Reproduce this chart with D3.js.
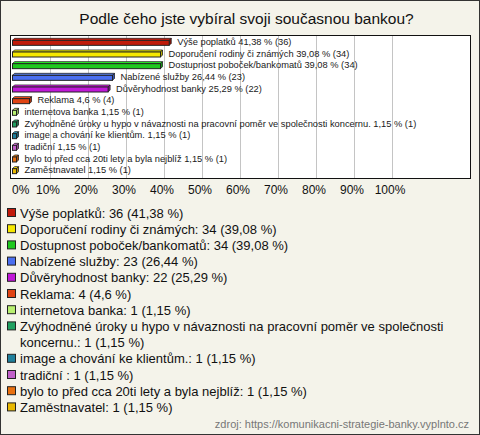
<!DOCTYPE html>
<html><head><meta charset="utf-8">
<script src="https://cdn.jsdelivr.net/npm/d3@7"></script>
<style>
html,body{margin:0;padding:0;background:#f4f3ea;}
svg{display:block;}
</style></head>
<body>
<svg id="chart" width="480" height="435"></svg>
<script>
const title = "Podle čeho jste vybíral svoji současnou bankou?";
const categories = [
  "Výše poplatků",
  "Doporučení rodiny či známých",
  "Dostupnost poboček/bankomatů",
  "Nabízené služby",
  "Důvěryhodnost banky",
  "Reklama",
  "internetova banka",
  "Zvýhodněné úroky u hypo v návaznosti na pracovní poměr ve společnosti koncernu.",
  "image a chování ke klientům.",
  "tradiční ",
  "bylo to před cca 20ti lety a byla nejblíž",
  "Zaměstnavatel"
];
const counts = [36, 34, 34, 23, 22, 4, 1, 1, 1, 1, 1, 1];
const percents = [41.38, 39.08, 39.08, 26.44, 25.29, 4.6, 1.15, 1.15, 1.15, 1.15, 1.15, 1.15];
const colors = ["#c01a0a", "#f6e800", "#1ec81e", "#4a6ff0", "#c018d8", "#e04414",
                "#b8f070", "#20a060", "#20809c", "#c060c8", "#e87010", "#e8b800"];
const ticks = [0, 10, 20, 30, 40, 50, 60, 70, 80, 90, 100];
const source = "zdroj: https://komunikacni-strategie-banky.vyplnto.cz";

const fmt = v => String(v).replace(".", ",");
const svg = d3.select("#chart");

// outer frame
svg.append("rect").attr("x", 0.5).attr("y", 0.5).attr("width", 479).attr("height", 434)
  .attr("fill", "#f4f3ea").attr("stroke", "#333");

svg.append("text").attr("x", 246.5).attr("y", 24).attr("text-anchor", "middle")
  .attr("font-family", "Liberation Sans, Arial, sans-serif").attr("font-size", 15.5)
  .attr("fill", "#111").text(title);

const plot = {left: 10, top: 35, right: 470, bottom: 178};
svg.append("rect").attr("x", plot.left + 0.5).attr("y", plot.top + 0.5)
  .attr("width", plot.right - plot.left).attr("height", plot.bottom - plot.top)
  .attr("fill", "#fff").attr("stroke", "#111");

const x = d3.scaleLinear().domain([0, 100]).range([12, 392]);
const y = d3.scaleBand().domain(d3.range(categories.length)).range([36, 176]);

// grid lines
svg.append("g").selectAll("line").data(ticks.filter(t => t > 0)).join("line")
  .attr("x1", d => Math.round(x(d)) + 0.5).attr("x2", d => Math.round(x(d)) + 0.5)
  .attr("y1", plot.top + 1).attr("y2", plot.bottom)
  .attr("stroke", "#c4c4c4");

// tick labels
svg.append("g").selectAll("text").data(ticks).join("text")
  .attr("x", d => d === 0 ? x(0) : x(d) - 2)
  .attr("text-anchor", d => d === 0 ? "start" : "middle")
  .attr("y", 194)
  .attr("font-family", "Liberation Sans, Arial, sans-serif").attr("font-size", 12)
  .attr("fill", "#111").text(d => d + "%");

// bars (3D style)
const d3off = 2, bh = 5;
const bars = svg.append("g");
categories.forEach((c, i) => {
  const x0 = x(0) + 0.5;
  const x1 = Math.max(x(percents[i]), x0 + 4);
  const yc = y(i) + y.bandwidth() / 2;
  const top = yc - bh / 2 + 1;
  const col = colors[i];
  // top face
  bars.append("path")
    .attr("d", `M${x0},${top} L${x0 + d3off},${top - d3off} L${x1 + d3off},${top - d3off} L${x1},${top} Z`)
    .attr("fill", d3.color(col).brighter(0.6)).attr("stroke", "#222").attr("stroke-width", 0.8);
  // right face
  bars.append("path")
    .attr("d", `M${x1},${top} L${x1 + d3off},${top - d3off} L${x1 + d3off},${top + bh - d3off} L${x1},${top + bh} Z`)
    .attr("fill", d3.color(col).darker(0.8)).attr("stroke", "#222").attr("stroke-width", 0.8);
  // front
  bars.append("rect").attr("x", x0).attr("y", top).attr("width", x1 - x0).attr("height", bh)
    .attr("fill", col).attr("stroke", "#222").attr("stroke-width", 1);
  // label
  bars.append("text").attr("x", x1 + 8).attr("y", yc + 3)
    .attr("font-family", "Liberation Sans, Arial, sans-serif").attr("font-size", 9.3)
    .attr("fill", "#1a1a1a")
    .text(`${c} ${fmt(percents[i])} % (${counts[i]})`);
});

// legend
const legend = svg.append("g");
const lh = 16.2;
let ly = 213;
categories.forEach((c, i) => {
  legend.append("rect").attr("x", 7.5).attr("y", ly - 4.5).attr("width", 8).attr("height", 8)
    .attr("fill", colors[i]).attr("stroke", "#222");
  const full = `${c}: ${counts[i]} (${fmt(percents[i])} %)`;
  const t = legend.append("text").attr("x", 20).attr("y", ly + 4.5)
    .attr("font-family", "Liberation Sans, Arial, sans-serif").attr("font-size", 13)
    .attr("fill", "#111");
  // simple word wrap
  const words = full.split(" ");
  let line = [];
  let lines = [];
  const tmp = t.append("tspan");
  words.forEach(w => {
    line.push(w);
    tmp.text(line.join(" "));
    if (tmp.node().getComputedTextLength() > 445 && line.length > 1) {
      line.pop();
      lines.push(line.join(" "));
      line = [w];
    }
  });
  lines.push(line.join(" "));
  tmp.remove();
  lines.forEach((l, k) => {
    t.append("tspan").attr("x", 20).attr("dy", k === 0 ? 0 : lh).text(l);
  });
  ly += lh * lines.length;
});

svg.append("text").attr("x", 469).attr("y", 428).attr("text-anchor", "end")
  .attr("font-family", "Liberation Sans, Arial, sans-serif").attr("font-size", 11)
  .attr("fill", "#777").text(source);
</script>
</body></html>
